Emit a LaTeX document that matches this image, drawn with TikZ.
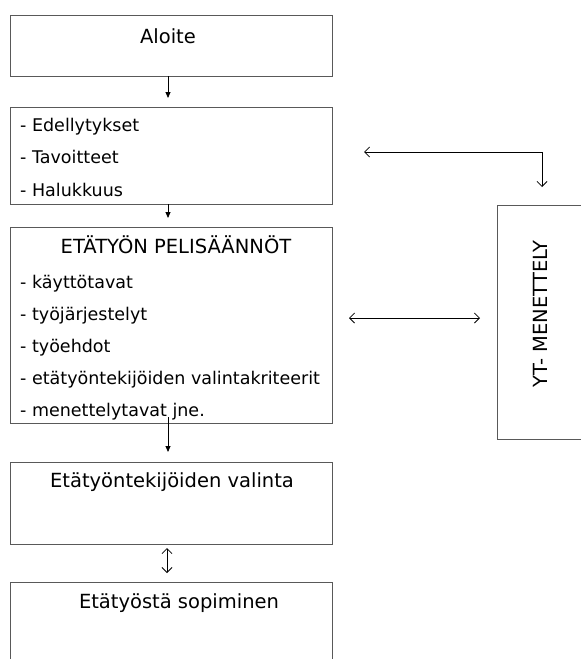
\documentclass[tikz,border=0pt]{standalone}
\usepackage{fontspec}
\setmainfont{DejaVu Sans}
\usetikzlibrary{arrows.meta}

\begin{document}
\begin{tikzpicture}[x=1pt,y=-1pt,box/.style = {rectangle,draw=black!65,line width=0.9pt,inner sep=0pt,outer sep=0mm},
    head/.style = {font=\fontsize{19.5}{23}\selectfont,anchor=base,inner sep=0pt},
    item/.style = {font=\fontsize{17.5}{21}\selectfont,anchor=base west,inner sep=0pt},
    tip/.style = {line width=0.8pt,-{Triangle[length=6pt,width=5pt]}},
    both/.style = {line width=0.8pt,{Straight Barb[length=5pt,width=10pt]}-{Straight Barb[length=5pt,width=10pt]}}]
    \useasboundingbox (0,0) rectangle (581,659);
    \clip (0,0) rectangle (581,659);
    \node[box,minimum width=322,minimum height=61] (aloite) at (171,45.5) {};
    \node[box,minimum width=322,minimum height=97] (ehdot) at (171,155.5) {};
    \node[box,minimum width=322,minimum height=196] (pelisaannot) at (171,325) {};
    \node[box,minimum width=322,minimum height=82] (valinta) at (171,503) {};
    \node[box,minimum width=322,minimum height=98] (sopiminen) at (171,631) {};
    \node[box,minimum width=86,minimum height=234] (yt) at (540,322) {};
    \node[head] (aloitet) at (168,43) {Aloite};
    \foreach \t [count=\i from 0] in {Edellytykset,Tavoitteet,Halukkuus} \node[item] (e\i) at (20,131+32.5*\i) {- \t};
    \node[head] (pelisaannott) at (176,253) {ETÄTYÖN PELISÄÄNNÖT};
    \foreach \t [count=\i from 0] in {käyttötavat,työjärjestelyt,työehdot,etätyöntekijöiden valintakriteerit,menettelytavat jne.} \node[item] (p\i) at (20,288+32*\i) {- \t};
    \node[head] (valintat) at (172,487) {Etätyöntekijöiden valinta};
    \node[head] (sopiminent) at (179,608) {Etätyöstä sopiminen};
    \node[head,anchor=center,rotate=90] (ytt) at (540,314) {YT- MENETTELY};
\draw[tip] ([xshift=-3pt]aloite.south) -- ([xshift=-3pt,yshift=9pt]ehdot.north);
\draw[tip] ([xshift=-3pt]ehdot.south) -- ([xshift=-3pt,yshift=9pt]pelisaannot.north);
\draw[tip] ([xshift=-3pt,yshift=6pt]pelisaannot.south) -- ([xshift=-3pt,yshift=10pt]valinta.north);
\draw[both] ([xshift=-4pt,yshift=-4pt]valinta.south) -- ([xshift=-4pt,yshift=9pt]sopiminen.north);
\draw[both] ([shift={(32pt,3.5pt)}]ehdot.east) -| ([shift={(2pt,18pt)}]yt.north);
\draw[both] ([shift={(17pt,7pt)}]pelisaannot.east) -- ([shift={(-17pt,4pt)}]yt.west);
\end{tikzpicture}
\end{document}
